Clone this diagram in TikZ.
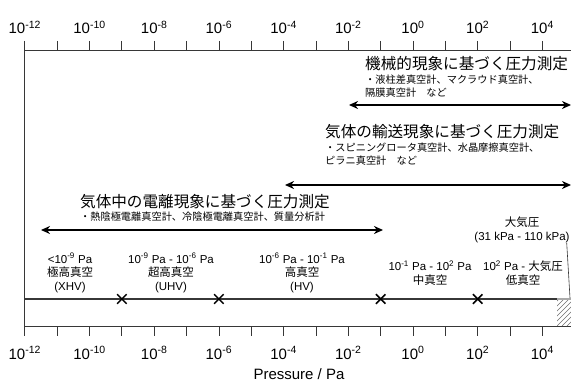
\documentclass[tikz,border=0pt]{standalone}
\usepackage{fontspec}
\setmainfont{Liberation Sans}
\newfontfamily\jpfont{Noto Sans CJK JP}
\usetikzlibrary{arrows.meta,positioning,calc,shapes.misc}
\definecolor{Frame}{RGB}{55,55,55}
\definecolor{HatchGray}{RGB}{110,110,110}
\definecolor{FadeGray}{RGB}{170,170,170}
\newcommand\tenpow[1]{10\textsuperscript{#1}}
\tikzset{
  axislabel/.style={font=\fontsize{15}{17}\selectfont,inner sep=0pt,anchor=base},
  tickmark/.style={draw=Frame,line width=0.8pt},
  frameline/.style={draw=Frame,line width=1pt},
  methodtitle/.style={font=\jpfont\fontsize{15.6}{17}\selectfont,inner sep=0pt,anchor=west},
  methodnote/.style={font=\jpfont\fontsize{10.2}{13.5}\selectfont,inner sep=0pt,align=left},
  rangearrow/.style={{Stealth[length=9pt,width=8pt]}-{Stealth[length=9pt,width=8pt]},line width=1.8pt},
  rangelabel/.style={font=\fontsize{11.5}{13.5}\selectfont,align=center,inner sep=0pt},
  boundary/.style={cross out,draw,line width=1.5pt,minimum size=8pt,inner sep=0pt},
  vacline/.style={draw=Frame,line width=1.8pt}
}
\begin{document}
\begin{tikzpicture}[x=1pt,y=-1pt]
\useasboundingbox (0,0) rectangle (571,385);
\coordinate (topL) at (24.8,51);
\coordinate (topR) at (571,51);
\coordinate (botL) at (24.8,326);
\coordinate (botR) at (571,326);
\coordinate (axL) at (24.8,41);
\coordinate (axB) at (24.8,336);
\coordinate (mechL) at (349,105);
\coordinate (mechR) at (571,105);
\coordinate (tranL) at (285,185);
\coordinate (tranR) at (571,185);
\coordinate (ionL) at (41,230);
\coordinate (ionR) at (383,230);
\coordinate (vacL) at (24.8,299);
\coordinate (vacM) at (557,299);
\coordinate (vacR) at (571,299);
\coordinate (atmTip) at (570,298);

\draw[frameline] (axL) -- (axB);
\draw[frameline] (topL) -- (topR);
\draw[frameline] (botL) -- (botR);
\foreach \k in {0,...,16}{
  \pgfmathsetmacro\xx{24.8+32.35*\k}
  \draw[tickmark] (\xx,41) -- (\xx,51);
  \draw[tickmark] (\xx,326) -- (\xx,336);
}
\foreach \k/\e in {0/-12,2/-10,4/-8,6/-6,8/-4,10/-2,12/0,14/2,16/4}{
  \pgfmathsetmacro\xx{24.8+32.35*\k}
  \node[axislabel] (top\k) at (\xx,34) {\tenpow{\e}};
  \node[axislabel] (bot\k) at (\xx,359) {\tenpow{\e}};
}
\node[axislabel] (xlabel) at (299,379) {Pressure / Pa};

\begin{scope}
\clip (557,299) rectangle (571,326);
\foreach \s in {-30,-25,...,20}
  \draw[HatchGray,line width=0.6pt] (557+\s,326) -- (584+\s,299);
\end{scope}
\draw[vacline] (vacL) -- (vacM);
\draw[FadeGray,line width=1.8pt] (vacM) -- (vacR);

\draw[rangearrow] (mechL) -- (mechR);
\draw[rangearrow] (tranL) -- (tranR);
\draw[rangearrow] (ionL) -- (ionR);

\node[methodtitle] (mechT) at (365,64) {機械的現象に基づく圧力測定};
\node[methodnote,below=3pt of mechT.south west,anchor=north west] (mechN) {・液柱差真空計、マクラウド真空計、\\隔膜真空計　など};
\node[methodtitle] (tranT) at (325,132) {気体の輸送現象に基づく圧力測定};
\node[methodnote,below=3pt of tranT.south west,anchor=north west] (tranN) {・スピニングロータ真空計、水晶摩擦真空計、\\ピラニ真空計　など};
\node[methodtitle] (ionT) at (80,202) {気体中の電離現象に基づく圧力測定};
\node[methodnote,below=2pt of ionT.south west,anchor=north west] (ionN) {・熱陰極電離真空計、冷陰極電離真空計、質量分析計};

\node[boundary] (b9) at (121.9,299) {};
\node[boundary] (b6) at (218.9,299) {};
\node[boundary] (b1) at (380.7,299) {};
\node[boundary] (b2) at (477.7,299) {};

\node[rangelabel] (xhv) at (70,273) {<\tenpow{-9} Pa\\{\jpfont 極高真空}\\(XHV)};
\node[rangelabel] (uhv) at (171,273) {\tenpow{-9} Pa - \tenpow{-6} Pa\\{\jpfont 超高真空}\\(UHV)};
\node[rangelabel] (hv) at (302,273) {\tenpow{-6} Pa - \tenpow{-1} Pa\\{\jpfont 高真空}\\(HV)};
\node[rangelabel] (mv) at (430,273) {\tenpow{-1} Pa - \tenpow{2} Pa\\{\jpfont 中真空}};
\node[rangelabel] (lv) at (523,273) {\tenpow{2} Pa - {\jpfont 大気圧}\\{\jpfont 低真空}};
\node[rangelabel] (atm) at (522,230) {{\jpfont 大気圧}\\(31 kPa - 110 kPa)};
\draw[Frame,line width=0.6pt] ([xshift=-3pt]atm.south east) -- (atmTip);
\end{tikzpicture}
\end{document}
